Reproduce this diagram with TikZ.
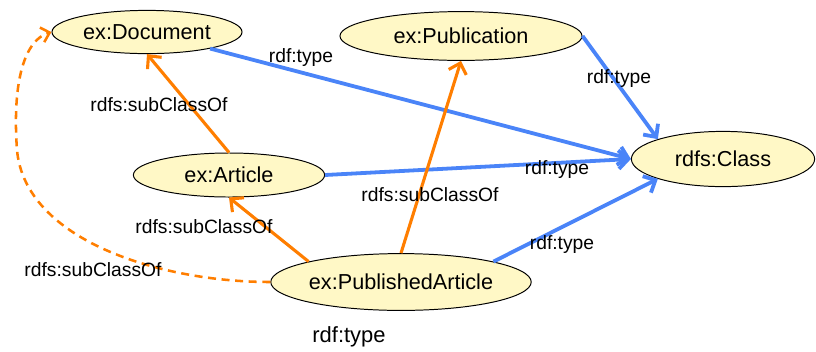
\documentclass[tikz,border=0pt]{standalone}
\usepackage{fontspec}
\setmainfont{Liberation Sans}
\usetikzlibrary{positioning,shapes.geometric,arrows.meta}
\definecolor{rdfblue}{HTML}{4A84F8}
\definecolor{rdforange}{HTML}{FF7E00}
\definecolor{clsfill}{HTML}{FFF8C6}

\begin{document}
\begin{tikzpicture}[x=0.025cm, y=-0.025cm,
    cls/.style={ellipse, draw=black, line width=0.7pt, fill=clsfill, inner sep=0pt,
      font=\fontsize{15.4}{18}\selectfont},
    lbl/.style={inner sep=0pt, font=\fontsize{13.7}{16}\selectfont},
    typeedge/.style={draw=rdfblue, line width=2.7pt, -{Straight Barb[length=2.4mm,width=4.6mm]}},
    subedge/.style={draw=rdforange, line width=2.2pt, -{Straight Barb[length=2.4mm,width=4.6mm]}}]
      \useasboundingbox (0,0) rectangle (816,351);

      % classes
      \node[cls, minimum width=4.75cm, minimum height=1.08cm] (doc) at (147,32) {ex:Document};
      \node[cls, minimum width=6.05cm, minimum height=1.22cm] (pub) at (461,36) {ex:Publication};
      \node[cls, minimum width=4.58cm, minimum height=1.38cm] (cls) at (723,159) {rdfs:Class};
      \node[cls, minimum width=4.78cm, minimum height=1.10cm] (art) at (229,175) {ex:Article};
      \node[cls, minimum width=6.05cm, minimum height=1.42cm] (pubart) at (401,282) {ex:PublishedArticle};

      % rdf:type
      \draw[typeedge] (doc) -- (cls.west);
      \draw[typeedge] (pub.east) -- (cls.north west);
      \draw[typeedge] (art.east) -- (cls.west);
      \draw[typeedge] (pubart.north east) -- (cls.south west);

      % rdfs:subClassOf
      \draw[subedge] (art.north) -- (doc.south);
      \draw[subedge] (pubart.north west) -- (art.south);
      \draw[subedge] (pubart.north) -- (pub.south);
      \draw[draw=rdforange, line width=1.8pt, dash pattern=on 2mm off 1.4mm,
        -{Straight Barb[length=2mm,width=3.8mm]}]
        (pubart.west) .. controls (160,282) and (25,240) .. (17,150)
        .. controls (12,80) and (25,40) .. (doc.west);

      \node[lbl] (t1) at (301,58) {rdf:type};
      \node[lbl] (t2) at (619,79) {rdf:type};
      \node[lbl] (t3) at (557,170) {rdf:type};
      \node[lbl] (t4) at (562,245) {rdf:type};
      \node[lbl, font=\fontsize{15.6}{18}\selectfont] (t5) at (349,337) {rdf:type};
      \node[lbl] (s1) at (159,105) {rdfs:subClassOf};
      \node[lbl] (s2) at (430,195) {rdfs:subClassOf};
      \node[lbl] (s3) at (204,227) {rdfs:subClassOf};
      \node[lbl] (s4) at (93,270) {rdfs:subClassOf};
\end{tikzpicture}
\end{document}
